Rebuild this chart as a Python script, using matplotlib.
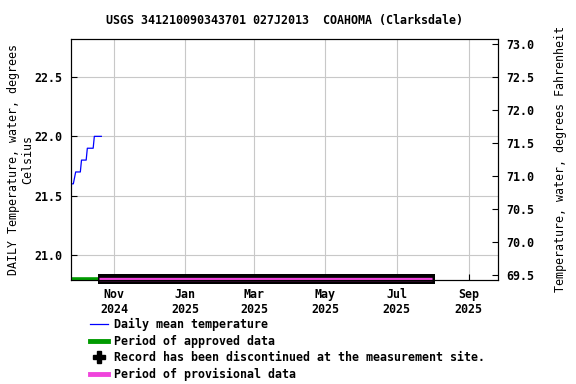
import matplotlib
matplotlib.use("Agg")
import matplotlib.pyplot as plt
from matplotlib.lines import Line2D
import pandas as pd

# daily mean water temperature, deg C
temp_dates = pd.date_range("2024-09-26", "2024-10-21", freq="D")
temp_values = [21.6, 21.6, 21.65, 21.7, 21.7, 21.7, 21.7, 21.7,
               21.8, 21.8, 21.8, 21.8, 21.8,
               21.9, 21.9, 21.9, 21.9, 21.9, 21.9,
               22.0, 22.0, 22.0, 22.0, 22.0, 22.0, 22.0]

approved_span = ["2024-09-25", "2024-10-18"]
discontinued_span = ["2024-10-18", "2025-08-03"]
provisional_span = ["2024-10-19", "2025-07-31"]

tick_dates = ["2024-11-01", "2025-01-01", "2025-03-01", "2025-05-01", "2025-07-01", "2025-09-01"]
tick_labels = ["Nov\n2024", "Jan\n2025", "Mar\n2025", "May\n2025", "Jul\n2025", "Sep\n2025"]
c_ticks = [21.0, 21.5, 22.0, 22.5]
f_ticks = [69.5, 70.0, 70.5, 71.0, 71.5, 72.0, 72.5, 73.0]

font = {"family": "DejaVu Sans Mono", "weight": "bold", "size": 8.4}
plt.rcParams["font.family"] = "DejaVu Sans Mono"
plt.rcParams["font.weight"] = "bold"
plt.rcParams["font.size"] = 8.4

ylo, yhi = 20.79, 22.82
pink = "#f044dc"
green = "#009a00"

fig = plt.figure(figsize=(5.76, 3.84), dpi=100)
ax = fig.add_axes([71 / 576, 1 - 280 / 384, 427 / 576, 241 / 384])

ax.plot(temp_dates, temp_values, color="blue", lw=0.9, zorder=3)

bar_y = ylo + 0.006
ax.plot(pd.to_datetime(approved_span), [bar_y, bar_y], color=green, lw=2.6, clip_on=False,
        solid_capstyle="butt", zorder=4)
ax.plot(pd.to_datetime(discontinued_span), [bar_y, bar_y], color="black", lw=7.2, clip_on=False,
        solid_capstyle="butt", zorder=4)
ax.plot(pd.to_datetime(provisional_span), [bar_y, bar_y], color=pink, lw=2.4, clip_on=False,
        solid_capstyle="butt", zorder=5)

ax.set_xlim(pd.Timestamp("2024-09-25"), pd.Timestamp("2025-09-26"))
ax.set_ylim(ylo, yhi)
ax.set_xticks(pd.to_datetime(tick_dates))
ax.set_xticklabels(tick_labels)
ax.set_yticks(c_ticks)
ax.set_yticklabels(["%.1f" % v for v in c_ticks])
ax.grid(True, color="#c8c8c8", lw=0.8)
ax.tick_params(direction="in", length=4, width=0.8, pad=6)
ax.tick_params(axis="x", pad=6)
ax.set_ylabel("DAILY Temperature, water, degrees\nCelsius", fontsize=8.4, labelpad=0)
ax.set_title("USGS 341210090343701 027J2013  COAHOMA (Clarksdale)", fontsize=8.4,
             fontweight="bold", pad=11)

ax2 = ax.twinx()
ax2.set_ylim(ylo * 9 / 5 + 32, yhi * 9 / 5 + 32)
ax2.set_yticks(f_ticks)
ax2.set_yticklabels(["%.1f" % v for v in f_ticks])
ax2.tick_params(direction="in", length=4, width=0.8, pad=6)
ax2.set_ylabel("Temperature, water, degrees Fahrenheit", fontsize=8.4, labelpad=14)

handles = [
    Line2D([], [], color="blue", lw=0.9),
    Line2D([], [], color=green, lw=3.5),
    Line2D([], [], color="black", marker="P", ms=9, ls="none"),
    Line2D([], [], color=pink, lw=3.5),
]
labels = ["Daily mean temperature", "Period of approved data",
          "Record has been discontinued at the measurement site.",
          "Period of provisional data"]
fig.legend(handles, labels, loc="upper left", bbox_to_anchor=(90 / 576, 1 - 318 / 384),
           frameon=False, handlelength=1.55, handletextpad=0.55, labelspacing=0.3,
           borderpad=0, borderaxespad=0, prop=font)

fig.savefig("out.png", dpi=100)
